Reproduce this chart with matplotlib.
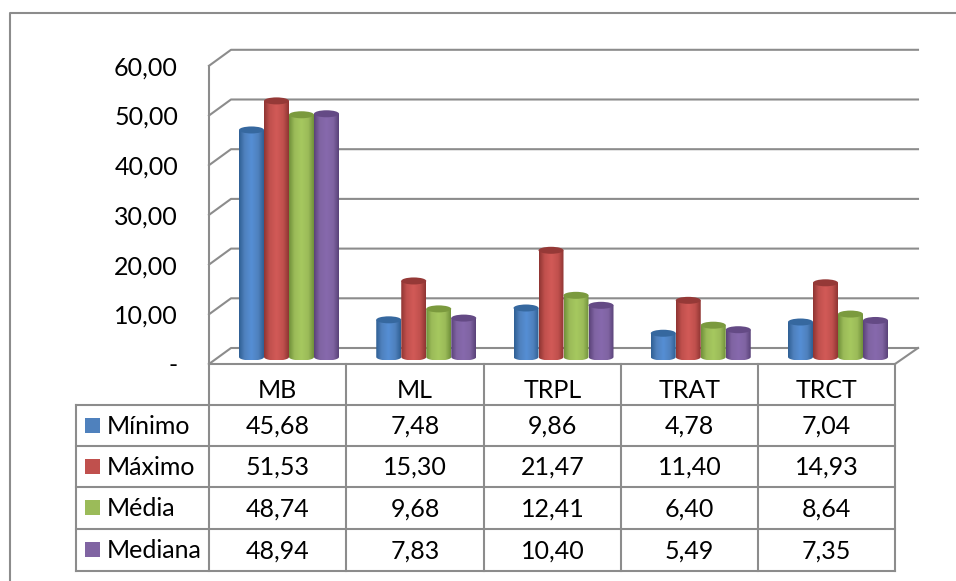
#!/usr/bin/env python3
"""3D-look cylinder column chart with a data table underneath."""
import numpy as np
import matplotlib; matplotlib.use("Agg")
import matplotlib.pyplot as plt
from matplotlib.colors import LinearSegmentedColormap
from matplotlib.patches import Ellipse, PathPatch, Rectangle
from matplotlib.path import Path

W, H = 956, 581
GRID = "#8c8c8c"
INK = "#000000"
FS = 18

categories = ["MB", "ML", "TRPL", "TRAT", "TRCT"]
series = ["Mínimo", "Máximo", "Média", "Mediana"]
minimo = [45.68, 7.48, 9.86, 4.78, 7.04]
maximo = [51.53, 15.30, 21.47, 11.40, 14.93]
media = [48.74, 9.68, 12.41, 6.40, 8.64]
mediana = [48.94, 7.83, 10.40, 5.49, 7.35]
values = [minimo, maximo, media, mediana]
y_ticks = [0, 10, 20, 30, 40, 50, 60]
y_labels = ["-", "10,00", "20,00", "30,00", "40,00", "50,00", "60,00"]

# legend colour, cylinder edge, highlight, cap
colors = [("#4f81bd", "#2f5f94", "#558ed5", "#36689f"),
          ("#c0504d", "#8f3533", "#d25a57", "#953937"),
          ("#9bbb59", "#71913a", "#a6c85f", "#7b9a3e"),
          ("#8064a2", "#5a4279", "#8769ad", "#644a85")]

plt.rcParams["font.family"] = ["Lato", "DejaVu Sans"]
fig = plt.figure(figsize=(W/100, H/100), dpi=100)

# pixel-space layer for frame, walls and table
bg = fig.add_axes([0, 0, 1, 1]); bg.set_xlim(0, W); bg.set_ylim(H, 0); bg.axis("off")
LW = 1.5


def line(xs, ys, lw=LW):
    bg.plot(xs, ys, color=GRID, lw=lw, solid_capstyle="projecting", zorder=1)


# outer chart frame, open on the right
line([W + 2, 10, 10], [13, 13, H + 2])

# walls and gridlines
PX_PER_UNIT = 4.97
FRONT0, BACK0 = 364, 348
for v, lab in zip(y_ticks, y_labels):
    yf, yb = FRONT0 - v*PX_PER_UNIT, BACK0 - v*PX_PER_UNIT
    line([209, 231, 918], [yf, yb, yb])
    bg.text(178, yf + 2, lab, ha="right", va="center", fontsize=FS, color=INK)
line([209, 209], [FRONT0 - 60*PX_PER_UNIT, FRONT0])
line([918, 895], [BACK0, FRONT0])

# data table
col_x = [209, 346, 484, 621, 758, 895]
row_y = [364, 405, 446, 487, 529, 571]
for y in row_y[:1]:
    line([209, 895], [y, y])
for y in row_y[1:]:
    line([76, 895], [y, y])
line([76, 76], [405, 571])
for x in col_x:
    line([x, x], [364, 571])
for i, cat in enumerate(categories):
    bg.text((col_x[i] + col_x[i+1])/2, 390, cat, ha="center", va="center", fontsize=FS, color=INK)
for r, (name, vals) in enumerate(zip(series, values)):
    yc = (row_y[r+1] + row_y[r+2])/2
    bg.add_patch(Rectangle((85, yc - 8), 15, 15, color=colors[r][0], lw=0))
    bg.text(107, yc + 1, name, ha="left", va="center", fontsize=FS, color=INK)
    for i, v in enumerate(vals):
        txt = f"{v:.2f}".replace(".", ",")
        bg.text((col_x[i] + col_x[i+1])/2, yc + 1, txt, ha="center", va="center", fontsize=FS, color=INK)

# bars on their own axes: index on x, value on y
GROUP0, GROUP_STEP, BASE = 289, 137.25, 357
ax_l, ax_r, ax_t, ax_b = 209, 918, 40, 370
ax = fig.add_axes([ax_l/W, 1 - ax_b/H, (ax_r - ax_l)/W, (ax_b - ax_t)/H])
ax.axis("off"); ax.patch.set_alpha(0)

bar_w = 25/GROUP_STEP
cap_h = 7/PX_PER_UNIT
for s, vals in enumerate(values):
    base, edge, light, cap = colors[s]
    cmap = LinearSegmentedColormap.from_list(
        "cyl", [(0, edge), (.22, base), (.5, light), (.78, base), (1, edge)])
    grad = np.linspace(0, 1, 64)[None, :]
    for i, v in enumerate(vals):
        x0 = i + (s - 2)*bar_w
        x1 = x0 + bar_w
        xm = (x0 + x1)/2
        im = ax.imshow(grad, extent=(x0, x1, -cap_h/2, v), cmap=cmap, aspect="auto", zorder=3 + s, interpolation="bilinear")
        t = np.linspace(np.pi, 2*np.pi, 30)
        bottom = np.c_[xm + bar_w/2*np.cos(t), cap_h/2*np.sin(t)]
        verts = np.vstack([bottom, [[x1, v], [x0, v], bottom[0]]])
        clip = PathPatch(Path(verts), transform=ax.transData, fc="none", ec="none")
        ax.add_patch(clip); im.set_clip_path(clip)
        ax.add_patch(Ellipse((xm, v), bar_w, cap_h, fc=cap, ec="none", zorder=3 + s))
ax.set_xlim((ax_l - GROUP0)/GROUP_STEP, (ax_r - GROUP0)/GROUP_STEP)
ax.set_ylim((BASE - ax_b)/PX_PER_UNIT, (BASE - ax_t)/PX_PER_UNIT)

fig.savefig("out.png", dpi=100)
